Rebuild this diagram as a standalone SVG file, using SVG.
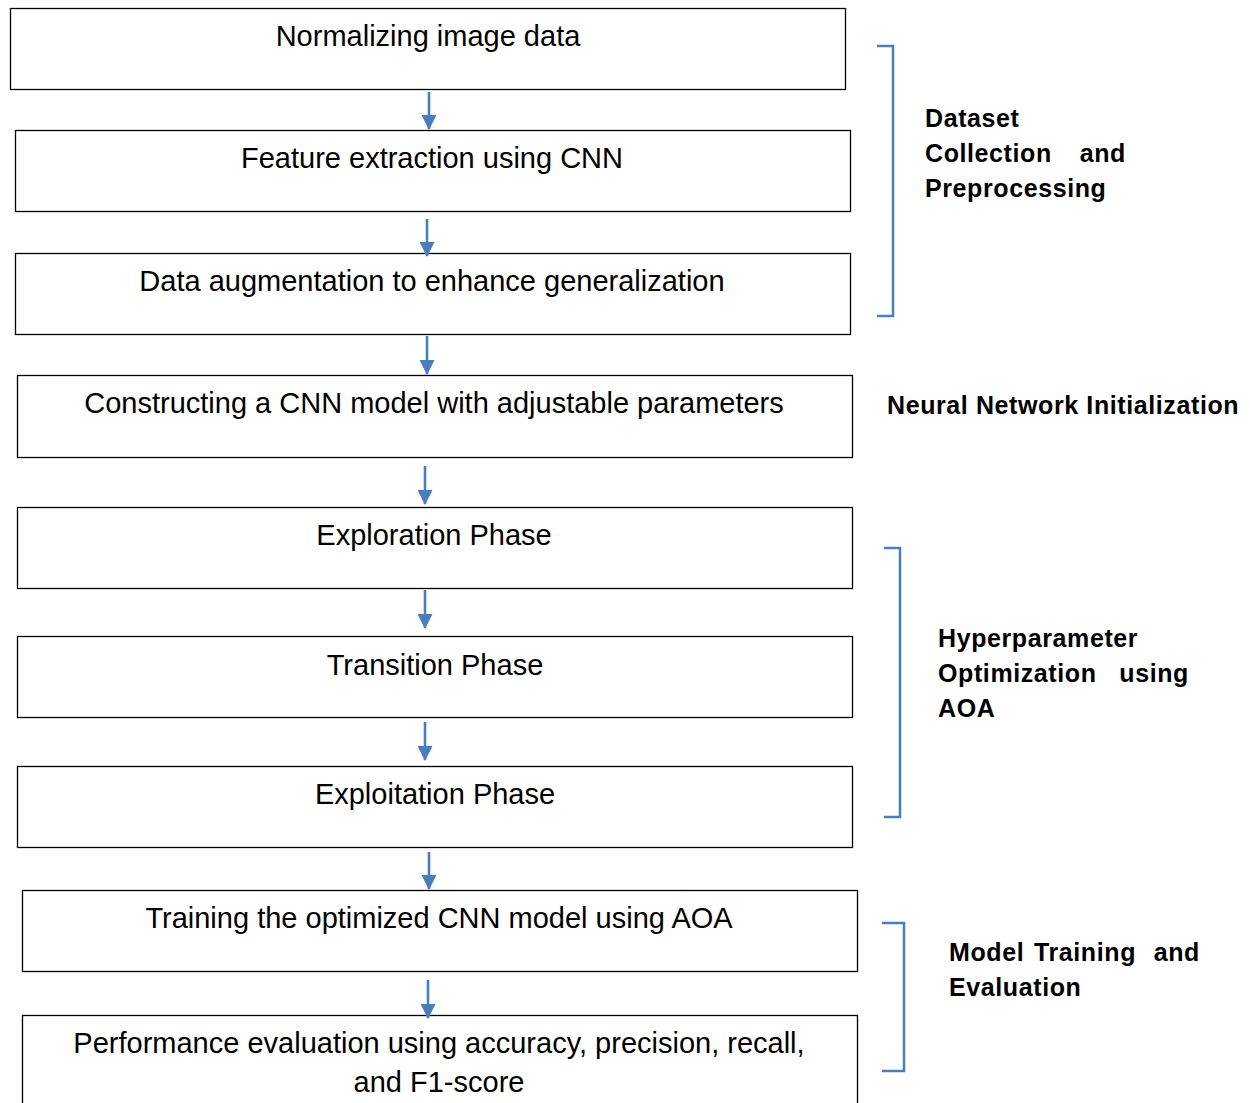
<svg xmlns="http://www.w3.org/2000/svg" width="1250" height="1103" viewBox="0 0 1250 1103">
<defs>
<style>
.box{fill:#fff;stroke:#000;stroke-width:1.3}
.t{font-family:"Liberation Sans",Arial,sans-serif;font-size:29px;fill:#000;text-anchor:middle}
.lbl{font-family:"Liberation Sans",Arial,sans-serif;font-size:25px;letter-spacing:0.6px;font-weight:bold;fill:#000}
.arr{stroke:#4a7ebb;stroke-width:2.6;fill:none;marker-end:url(#ah)}
.br{stroke:#4a7ebb;stroke-width:2.5;fill:none}
</style>
<marker id="ah" markerWidth="15" markerHeight="15" refX="14" refY="7.5" orient="auto" markerUnits="userSpaceOnUse" viewBox="0 0 15 15">
<path d="M0,0 L15,7.5 L0,15 Z" fill="#4a7ebb"/>
</marker>
</defs>
<rect width="1250" height="1103" fill="#fff"/>
<g id="n1"><rect class="box" x="10.5" y="8.5" width="835" height="81"/><text class="t" x="428" y="46">Normalizing image data</text></g>
<g id="n2"><rect class="box" x="15.5" y="130.5" width="835" height="81"/><text class="t" x="432" y="168">Feature extraction using CNN</text></g>
<g id="n3"><rect class="box" x="15.5" y="253.5" width="835" height="81"/><text class="t" x="432" y="291">Data augmentation to enhance generalization</text></g>
<g id="n4"><rect class="box" x="17.5" y="375.5" width="835" height="82"/><text class="t" x="434" y="413">Constructing a CNN model with adjustable parameters</text></g>
<g id="n5"><rect class="box" x="17.5" y="507.5" width="835" height="81"/><text class="t" x="434" y="545">Exploration Phase</text></g>
<g id="n6"><rect class="box" x="17.5" y="636.5" width="835" height="81"/><text class="t" x="435" y="675">Transition Phase</text></g>
<g id="n7"><rect class="box" x="17.5" y="766.5" width="835" height="81"/><text class="t" x="435" y="804">Exploitation Phase</text></g>
<g id="n8"><rect class="box" x="22.5" y="890.5" width="835" height="81"/><text class="t" x="439" y="928">Training the optimized CNN model using AOA</text></g>
<g id="n9"><rect class="box" x="22.5" y="1015.5" width="835" height="100"/><text class="t" x="439" y="1053">Performance evaluation using accuracy, precision, recall,</text><text class="t" x="439" y="1092">and F1-score</text></g>
<g id="connectors">
<line class="arr" x1="429" y1="92" x2="429" y2="129"/>
<line class="arr" x1="427" y1="219" x2="427" y2="256"/>
<line class="arr" x1="427" y1="336" x2="427" y2="374"/>
<line class="arr" x1="425" y1="466" x2="425" y2="504"/>
<line class="arr" x1="425" y1="590" x2="425" y2="628"/>
<line class="arr" x1="425" y1="722" x2="425" y2="760"/>
<line class="arr" x1="429" y1="852" x2="429" y2="889"/>
<line class="arr" x1="428" y1="980" x2="428" y2="1018"/>
</g>
<g id="brackets">
<path class="br" d="M877,46 H893 V316 H877"/>
<path class="br" d="M884,548 H900 V817 H884"/>
<path class="br" d="M882,923 H904 V1071 H882"/>
</g>
<g id="label1" class="lbl"><text x="925" y="127">Dataset</text><text x="925" y="162">Collection</text><text x="1126" y="162" text-anchor="end">and</text><text x="925" y="197">Preprocessing</text></g>
<g id="label2" class="lbl"><text x="887" y="414">Neural Network Initialization</text></g>
<g id="label3" class="lbl"><text x="938" y="647">Hyperparameter</text><text x="938" y="682">Optimization</text><text x="1189" y="682" text-anchor="end">using</text><text x="938" y="717">AOA</text></g>
<g id="label4" class="lbl"><text x="949" y="961">Model</text><text x="1034" y="961">Training</text><text x="1200" y="961" text-anchor="end">and</text><text x="949" y="996">Evaluation</text></g>
</svg>
